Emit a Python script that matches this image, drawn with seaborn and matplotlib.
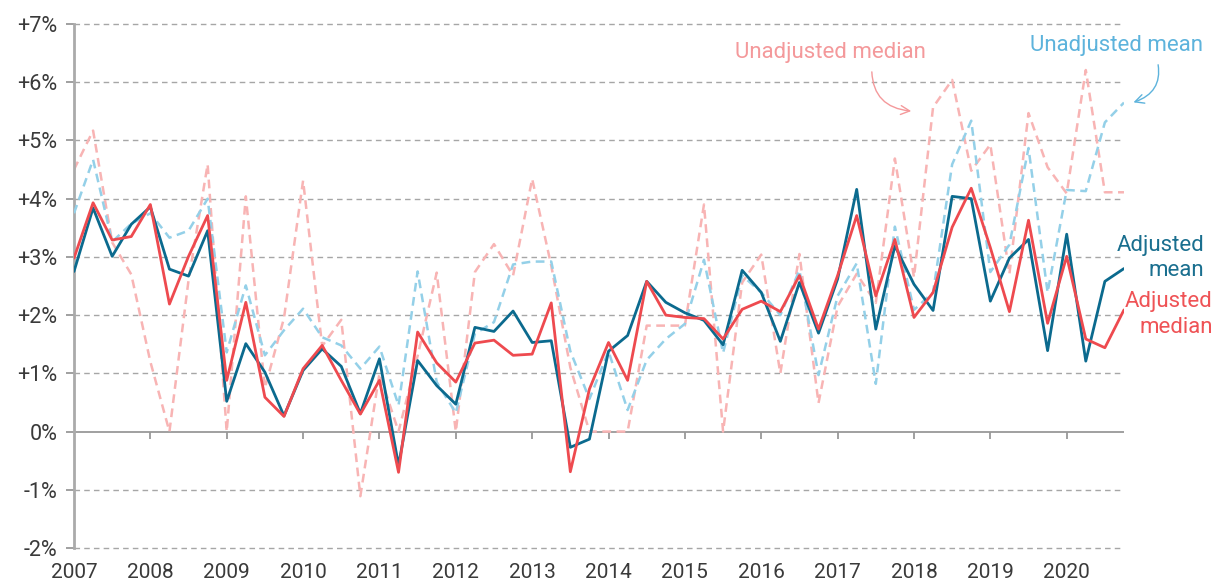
import matplotlib
matplotlib.use("Agg")
import matplotlib.pyplot as plt
import seaborn as sns
import numpy as np
import pandas as pd

# Quarterly growth rates (%), 2007Q1 .. 2020Q4
adj_mean = [2.75, 3.84, 3.01, 3.56, 3.86, 2.79, 2.67, 3.45,
            0.52, 1.51, 1.02, 0.27, 1.05, 1.42, 1.12, 0.31,
            1.25, -0.58, 1.22, 0.79, 0.47, 1.79, 1.72, 2.07,
            1.53, 1.56, -0.27, -0.13, 1.38, 1.65, 2.58, 2.22,
            2.04, 1.91, 1.49, 2.77, 2.39, 1.55, 2.56, 1.69,
            2.62, 4.16, 1.76, 3.19, 2.53, 2.08, 4.04, 4.00,
            2.24, 2.98, 3.30, 1.39, 3.39, 1.21, 2.58, 2.80]
adj_median = [2.98, 3.93, 3.29, 3.35, 3.90, 2.19, 3.01, 3.71,
              0.88, 2.22, 0.59, 0.26, 1.08, 1.48, 0.88, 0.30,
              0.88, -0.70, 1.71, 1.18, 0.85, 1.52, 1.57, 1.31,
              1.33, 2.21, -0.69, 0.73, 1.53, 0.88, 2.58, 2.00,
              1.96, 1.94, 1.59, 2.10, 2.24, 2.06, 2.68, 1.76,
              2.68, 3.71, 2.33, 3.30, 1.96, 2.39, 3.51, 4.18,
              3.16, 2.06, 3.63, 1.86, 3.01, 1.59, 1.44, 2.09]
unadj_mean = [3.75, 4.67, 3.26, 3.57, 3.75, 3.33, 3.45, 4.00,
              1.36, 2.51, 1.31, 1.74, 2.11, 1.62, 1.48, 1.08,
              1.46, 0.45, 2.75, 0.85, 0.32, 1.68, 1.88, 2.87,
              2.92, 2.92, 1.38, 0.56, 1.38, 0.37, 1.23, 1.59,
              1.85, 2.95, 1.35, 2.68, 2.39, 2.00, 2.77, 0.97,
              2.33, 2.89, 0.82, 3.52, 2.09, 2.39, 4.59, 5.34,
              2.74, 3.21, 4.87, 2.39, 4.15, 4.13, 5.31, 5.65]
unadj_median = [4.50, 5.17, 3.25, 2.70, 1.20, 0.00, 2.60, 4.59,
                0.00, 4.04, 0.75, 1.95, 4.31, 1.47, 1.92, -1.11,
                1.00, 0.00, 1.30, 2.73, 0.00, 2.74, 3.22, 2.68,
                4.34, 2.85, 1.10, 0.00, 0.00, 0.00, 1.82, 1.82,
                1.82, 3.90, 0.00, 2.56, 3.04, 1.00, 3.05, 0.49,
                2.15, 2.71, 2.21, 4.69, 2.65, 5.57, 6.04, 4.48,
                4.93, 2.71, 5.47, 4.54, 4.09, 6.21, 4.11, 4.11]

years = list(range(2007, 2021))
year_labels = [str(y) for y in years]
y_ticks = list(range(-2, 8))
y_labels = [f"+{v}%" if v > 0 else f"{v}%" for v in y_ticks]

quarters = np.arange(2007, 2021, 0.25)
df = pd.DataFrame({"quarter": quarters, "adj_mean": adj_mean, "adj_median": adj_median,
                   "unadj_mean": unadj_mean, "unadj_median": unadj_median})

c_adj_mean = "#0b6a8e"
c_adj_median = "#ee4a4f"
c_unadj_mean = "#94d0e8"
c_unadj_median = "#f8b4b4"
grey = "#a6a6a6"
text_grey = "#3a3a3a"

sns.set_theme(style="white")
plt.rcParams["font.family"] = ["Roboto", "DejaVu Sans"]

fig = plt.figure(figsize=(12.13, 5.83), dpi=100)
ax = fig.add_axes([0.061, 0.060, 0.8656, 0.8988])

# gridlines
for v in y_ticks:
    if v == 0:
        ax.axhline(v, color="#999999", lw=1.3, zorder=1)
    else:
        ax.axhline(v, color=grey, lw=1.0, ls=(0, (4, 3)), zorder=1, clip_on=False)
ax.vlines(years, -0.12, 0, color="#999999", lw=1.3, zorder=1)

sns.lineplot(data=df, x="quarter", y="unadj_median", ax=ax, color=c_unadj_median,
             lw=1.8, linestyle=(0, (3.5, 2.2)), zorder=2)
sns.lineplot(data=df, x="quarter", y="unadj_mean", ax=ax, color=c_unadj_mean,
             lw=1.8, linestyle=(0, (3.5, 2.2)), zorder=3)
sns.lineplot(data=df, x="quarter", y="adj_mean", ax=ax, color=c_adj_mean, lw=2.0, zorder=4)
sns.lineplot(data=df, x="quarter", y="adj_median", ax=ax, color=c_adj_median, lw=2.0, zorder=5)

ax.set_xlim(2007, 2020.75)
ax.set_ylim(-2, 7)
ax.set_xticks(years)
ax.set_xticklabels(year_labels)
ax.set_yticks(y_ticks)
ax.set_yticklabels(y_labels)
ax.set_xlabel("")
ax.set_ylabel("")
ax.tick_params(axis="x", length=0, pad=11, labelsize=15, colors=text_grey)
ax.tick_params(axis="y", length=6, width=1.3, color="#999999", pad=6,
               labelsize=15.5, labelcolor=text_grey, left=True)
for s in ["top", "right", "bottom"]:
    ax.spines[s].set_visible(False)
ax.spines["left"].set_color("#aaaaaa")
ax.spines["left"].set_linewidth(2)

# labels
ax.annotate("Unadjusted median", xy=(2018.0, 5.5), xytext=(2016.9, 6.51),
            color="#f4999b", fontsize=16, ha="center", va="center",
            arrowprops=dict(arrowstyle="->", color="#f4999b", lw=1,
                            connectionstyle="arc3,rad=0.5",
                            shrinkA=4, shrinkB=2, relpos=(0.72, 0.0)),
            annotation_clip=False)
ax.annotate("Unadjusted mean", xy=(2020.84, 5.64), xytext=(2020.65, 6.63),
            color="#5db3dc", fontsize=16, ha="center", va="center",
            arrowprops=dict(arrowstyle="->", color="#5db3dc", lw=1,
                            connectionstyle="arc3,rad=-0.5",
                            shrinkA=4, shrinkB=2, relpos=(0.73, 0.0)),
            annotation_clip=False)
ax.text(2021.80, 2.98, "Adjusted\nmean", color="#1a6f8f", fontsize=16,
        ha="right", va="center", linespacing=1.3, multialignment="right")
ax.text(2021.91, 2.01, "Adjusted\nmedian", color="#ef5356", fontsize=16,
        ha="right", va="center", linespacing=1.3, multialignment="right")

fig.savefig("out.png", dpi=100)
